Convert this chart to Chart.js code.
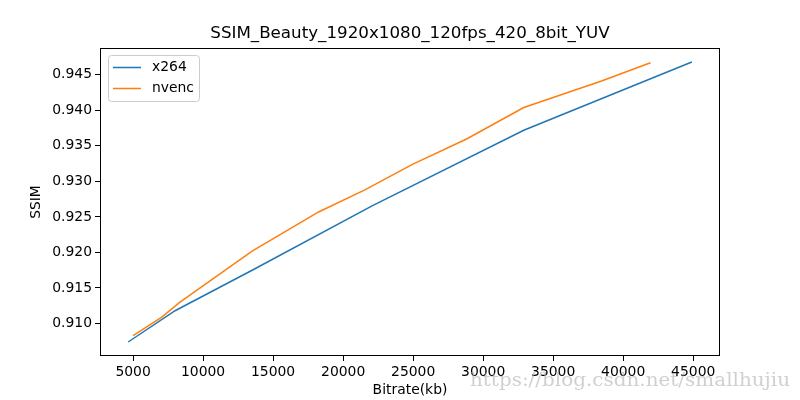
<!DOCTYPE html>
<html>
<head>
<meta charset="utf-8">
<script src="https://cdn.jsdelivr.net/npm/chart.js@4"></script>
<style>
  html, body { margin: 0; padding: 0; background: #fff; }
  #wrap { width: 800px; height: 400px; }
</style>
</head>
<body>
<div id="wrap"><canvas id="ssimChart" width="800" height="400"></canvas></div>
<script>
// values
const x264Bitrate = [4650, 8000, 13500, 22100, 32900, 44900];
const x264Ssim = [0.9074, 0.9118, 0.9175, 0.9266, 0.9372, 0.9468];
const nvencBitrate = [5000, 7050, 8350, 13500, 18250, 21550, 24950, 28850, 32900, 38400, 41950];
const nvencSsim = [0.9083, 0.9109, 0.9130, 0.9202, 0.9257, 0.9288, 0.9324, 0.9360, 0.9404, 0.9441, 0.9467];
const xTicks = [5000, 10000, 15000, 20000, 25000, 30000, 35000, 40000, 45000];
const yTicks = [0.910, 0.915, 0.920, 0.925, 0.930, 0.935, 0.940, 0.945];

const FONT = "'DejaVu Sans', sans-serif";

// matplotlib style 5% margins around the data
function margins(a, b) {
  const lo = Math.min(...a, ...b), hi = Math.max(...a, ...b);
  const m = (hi - lo) * 0.05;
  return [lo - m, hi + m];
}
const [xMin, xMax] = margins(x264Bitrate, nvencBitrate);
const [yMin, yMax] = margins(x264Ssim, nvencSsim);

const toPoints = (xs, ys) => xs.map((x, i) => ({ x: x, y: ys[i] }));

// frame, title, legend box and watermark
const decorPlugin = {
  id: "decor",
  afterDatasetsDraw(chart) {
    const ctx = chart.ctx;
    const a = chart.chartArea;
    ctx.save();
    ctx.strokeStyle = "#000";
    ctx.lineWidth = 1;
    ctx.strokeRect(Math.round(a.left) + 0.5, Math.round(a.top) + 0.5,
      Math.round(a.right - a.left) - 1, Math.round(a.bottom - a.top) - 1);

    // title
    ctx.fillStyle = "#000";
    ctx.font = "16.7px " + FONT;
    ctx.textAlign = "center";
    ctx.textBaseline = "middle";
    ctx.fillText("SSIM_Beauty_1920x1080_120fps_420_8bit_YUV", (a.left + a.right) / 2, 34);

    // legend
    const lx = 108, ly = 55, lw = 91, lh = 46;
    ctx.beginPath();
    ctx.roundRect(lx + 0.5, ly + 0.5, lw, lh, 3);
    ctx.fillStyle = "rgba(255,255,255,0.8)";
    ctx.fill();
    ctx.strokeStyle = "#cccccc";
    ctx.stroke();
    ctx.font = "13.9px " + FONT;
    ctx.textAlign = "left";
    chart.data.datasets.forEach((ds, i) => {
      const yy = 67.5 + i * 21;
      ctx.strokeStyle = ds.borderColor;
      ctx.lineWidth = 1.5;
      ctx.beginPath();
      ctx.moveTo(113, yy);
      ctx.lineTo(141, yy);
      ctx.stroke();
      ctx.fillStyle = "#000";
      ctx.fillText(ds.label, 152, yy);
    });

    // watermark
    ctx.font = "18px 'DejaVu Serif', 'Liberation Serif', serif";
    ctx.fillStyle = "rgba(170,170,170,0.55)";
    ctx.textBaseline = "middle";
    const wm = "https://blog.csdn.net/smallhujiu";
    const w = ctx.measureText(wm).width;
    ctx.translate(470, 381);
    ctx.scale(320 / w, 1);
    ctx.fillText(wm, 0, 0);
    ctx.restore();
  }
};

const ctx = document.getElementById("ssimChart").getContext("2d");
const ssimChart = new Chart(ctx, {
  type: "line",
  data: {
    datasets: [
      {
        label: "x264",
        data: toPoints(x264Bitrate, x264Ssim),
        borderColor: "#1f77b4",
        backgroundColor: "#1f77b4",
        borderWidth: 1.5,
        pointRadius: 0,
        tension: 0,
      },
      {
        label: "nvenc",
        data: toPoints(nvencBitrate, nvencSsim),
        borderColor: "#ff7f0e",
        backgroundColor: "#ff7f0e",
        borderWidth: 1.5,
        pointRadius: 0,
        tension: 0,
      },
    ],
  },
  options: {
    responsive: false,
    animation: false,
    devicePixelRatio: 1,
    layout: { padding: { top: 48, right: 80, left: 0, bottom: 0 } },
    plugins: {
      legend: { display: false },
      title: { display: false },
      tooltip: { enabled: false },
    },
    scales: {
      x: {
        type: "linear",
        min: xMin,
        max: xMax,
        afterFit: (s) => { s.height = 44; },
        afterBuildTicks: (s) => { s.ticks = xTicks.map((v) => ({ value: v })); },
        border: { display: false },
        grid: { drawOnChartArea: false, drawTicks: true, tickLength: 5, tickColor: "#000" },
        ticks: {
          color: "#000",
          font: { family: FONT, size: 13.9 },
          padding: 3,
          maxRotation: 0,
          callback: (v) => String(v),
        },
        title: {
          display: true,
          text: "Bitrate(kb)",
          color: "#000",
          font: { family: FONT, size: 13.9 },
          padding: { top: 0, bottom: 1 },
        },
      },
      y: {
        type: "linear",
        min: yMin,
        max: yMax,
        afterFit: (s) => { s.width = 100; },
        afterBuildTicks: (s) => { s.ticks = yTicks.map((v) => ({ value: v })); },
        border: { display: false },
        grid: { drawOnChartArea: false, drawTicks: true, tickLength: 5, tickColor: "#000" },
        ticks: {
          color: "#000",
          font: { family: FONT, size: 13.9 },
          padding: 3,
          callback: (v) => Number(v).toFixed(3),
        },
        title: {
          display: true,
          text: "SSIM",
          color: "#000",
          font: { family: FONT, size: 13.9 },
          padding: { top: 28, bottom: 0 },
        },
      },
    },
  },
  plugins: [decorPlugin],
});
</script>
</body>
</html>
